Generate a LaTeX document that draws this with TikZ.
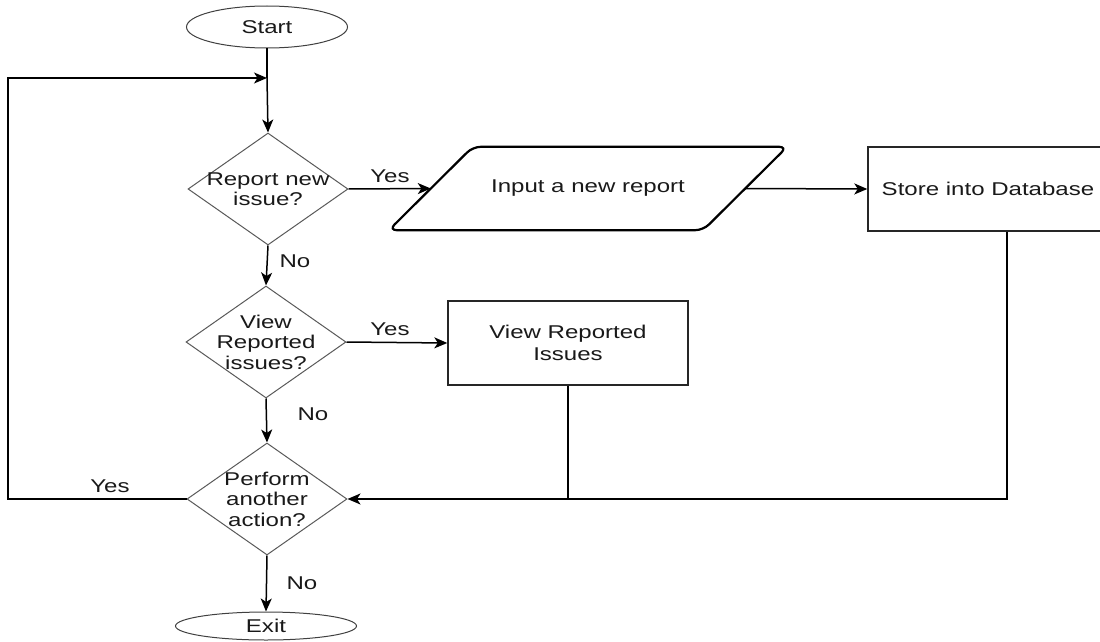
\documentclass[tikz,border=0pt]{standalone}
\usepackage{fontspec}
\setmainfont[FakeStretch=1.3]{Liberation Sans}
\usetikzlibrary{arrows.meta,shapes.geometric,calc}
\begin{document}
\begin{tikzpicture}[x=1pt,y=-1pt,
  every node/.style={font=\fontsize{18.5}{20.5}\selectfont, text=black!90},
  term/.style={ellipse, draw=black!75, line width=1pt, inner sep=0pt},
  dec/.style={diamond, draw=black!65, line width=1pt, minimum width=160pt,
              minimum height=112pt, inner sep=0pt},
  box/.style={rectangle, draw=black!85, line width=1.4pt, align=center, inner sep=0pt,
              font=\fontsize{18.5}{22}\selectfont},
  io/.style={rectangle, inner sep=0pt, minimum width=314pt, minimum height=83pt},
  iopath/.style={draw=black, line width=2.2pt, rounded corners=8pt},
  flow/.style={draw=black, line width=1.5pt, -{Stealth[length=13pt,width=11pt,inset=3.5pt]}},
  wire/.style={draw=black, line width=1.5pt},
  tag/.style={inner sep=0pt}
]
\useasboundingbox (0,0) rectangle (1100,642);
\clip (0,0) rectangle (1100,642);

% terminals
\node[term, minimum width=161pt, minimum height=42pt] (start) at (267,27) {Start};
\node[term, minimum width=181pt, minimum height=28pt] (exit) at (266,626) {Exit};

% decisions
\node[dec, label={[align=center]center:Report new\\issue?}] (d1) at (268,189) {};
\node[dec, label={[align=center]center:View\\Reported\\issues?}] (d2) at (266,342) {};
\node[dec, label={[align=center]center:Perform\\another\\action?}] (d3) at (267,499) {};

% input / process boxes
\node[io] (in1) at (588,188.5) {Input a new report};
\draw[iopath] ([xshift=42pt]in1.north west) -- ([xshift=42pt]in1.north east)
  -- ([xshift=-42pt]in1.south east) -- ([xshift=-42pt]in1.south west) -- cycle;
\node[box, minimum width=240pt, minimum height=84pt] (store) at (988,189) {Store into Database};
\node[box, minimum width=240pt, minimum height=84pt] (view) at (568,343) {View Reported\\Issues};

% junction points
\coordinate (join) at (267,78);
\coordinate (sdrop) at ($(store.south)+(19pt,0)$);
\coordinate (loopb) at (8,499);

% main flow
\draw[wire] (start) -- (join);
\draw[flow] (join) -- (d1.north);
\draw[flow] (d1.east) -- (in1.west);
\draw[flow] (in1.east) -- (store.west);
\draw[flow] (d1.south) -- (d2.north);
\draw[flow] (d2.east) -- (view.west);
\draw[flow] (d2.south) -- (d3.north);
\draw[flow] (d3.south) -- (exit.north);

% returns into the last decision
\draw[wire] (view.south) -- (view.south |- d3.east);
\draw[flow] (sdrop) -- (sdrop |- d3.east) -- (d3.east);

% loop back to the top
\draw[flow] (d3.west) -- (loopb) -- (loopb |- join) -- (join);

% branch labels
\node[tag] at (390,176) {Yes};
\node[tag] at (295,261) {No};
\node[tag] at (390,329) {Yes};
\node[tag] at (313,414) {No};
\node[tag] at (110,486) {Yes};
\node[tag] at (302,583) {No};
\end{tikzpicture}
\end{document}
